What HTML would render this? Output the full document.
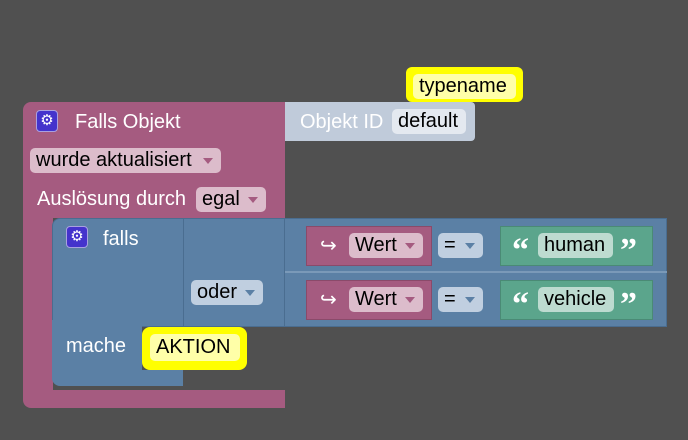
<!DOCTYPE html>
<html><head><meta charset="utf-8"><style>
body{margin:0;width:688px;height:440px;background:#505050;position:relative;overflow:hidden;font-family:"Liberation Sans",sans-serif;font-size:20px}
div{position:absolute;box-sizing:border-box}
.t{color:#fff;white-space:nowrap;line-height:20px}
.pill{border-radius:5px;color:#000;white-space:nowrap;line-height:25px;padding-left:6px}
.ar{position:absolute;right:8px;top:10px;width:0;height:0;border-left:5px solid transparent;border-right:5px solid transparent;border-top:6px solid}
.gear{width:22px;height:22px;background:#4433cc;border:1px solid #a9a0e0;border-radius:4px;color:#fff;font-size:15px;text-align:center;line-height:20px}
.q{color:#fff;font-family:"Liberation Serif",serif;font-weight:bold;font-size:34px;line-height:30px}
</style></head><body>
<!-- outer pink -->
<div style="left:23px;top:102px;width:262px;height:116px;background:#a55b80;border-radius:8px 0 0 0"></div>
<div style="left:23px;top:210px;width:30px;height:190px;background:#a55b80"></div>
<div style="left:23px;top:390px;width:262px;height:18px;background:#a55b80;border-radius:0 0 0 8px"></div>
<div class="gear" style="left:36px;top:110px">⚙</div>
<div class="t" style="left:75px;top:112px">Falls Objekt</div>
<div class="pill" style="left:30px;top:148px;width:191px;height:25px;background:#dcbccb">wurde aktualisiert<span class="ar" style="color:#a55b80"></span></div>
<div class="t" style="left:37px;top:189px">Auslösung durch</div>
<div class="pill" style="left:196px;top:187px;width:70px;height:25px;background:#dcbccb">egal<span class="ar" style="color:#a55b80"></span></div>
<!-- objekt id -->
<div style="left:285px;top:102px;width:190px;height:39px;background:#c0cbda;border-radius:0 4px 4px 0"></div>
<div class="t" style="left:300px;top:112px">Objekt ID</div>
<div class="pill" style="left:392px;top:109px;width:74px;height:25px;background:#e4e9f0">default</div>
<!-- typename -->
<div style="left:406px;top:67px;width:117px;height:35px;background:#ffff00;border-radius:6px"></div>
<div class="pill" style="left:413px;top:74px;width:103px;height:25px;background:#ffffa8">typename</div>
<!-- blue -->
<div style="left:52px;top:218px;width:615px;height:109px;background:#5b80a5;border:1px solid #4a6d90;border-radius:8px 0 0 0"></div>
<div style="left:52px;top:320px;width:90px;height:60px;background:#5b80a5"></div>
<div style="left:52px;top:370px;width:131px;height:16px;background:#5b80a5;border-radius:0 0 0 8px"></div>
<div style="left:183px;top:218px;width:1px;height:109px;background:#4a6d90"></div>
<div style="left:284px;top:218px;width:1px;height:109px;background:#4a6d90"></div>
<div style="left:285px;top:271px;width:382px;height:2px;background:#7a99b8"></div>
<div class="gear" style="left:66px;top:226px">⚙</div>
<div class="t" style="left:103px;top:229px">falls</div>
<div class="pill" style="left:191px;top:280px;width:72px;height:25px;background:#c0cfe0">oder<span class="ar" style="color:#5b80a5"></span></div>
<div class="t" style="left:66px;top:336px">mache</div>
<!-- aktion -->
<div style="left:142px;top:327px;width:105px;height:43px;background:#ffff00;border-radius:8px"></div>
<div class="pill" style="left:150px;top:334px;width:90px;height:27px;background:#ffffa8;line-height:27px">AKTION</div>
<!-- rows -->
<div style="left:306px;top:226px;width:126px;height:40px;background:#a55b80;border:1px solid #8a4a6a"></div>
<div class="t" style="left:320px;top:236px">↪</div>
<div class="pill" style="left:349px;top:233px;width:74px;height:25px;background:#dcbccb">Wert<span class="ar" style="color:#a55b80"></span></div>
<div class="pill" style="left:438px;top:233px;width:45px;height:25px;background:#c0cfe0">=<span class="ar" style="color:#5b80a5"></span></div>
<div style="left:500px;top:226px;width:153px;height:40px;background:#5ba58c;border:1px solid #4a8a75"></div>
<div class="q" style="left:512px;top:236px">“</div>
<div class="pill" style="left:538px;top:233px;width:75px;height:25px;background:#bddbd0">human</div>
<div class="q" style="left:620px;top:236px">”</div>

<div style="left:306px;top:280px;width:126px;height:40px;background:#a55b80;border:1px solid #8a4a6a"></div>
<div class="t" style="left:320px;top:290px">↪</div>
<div class="pill" style="left:349px;top:287px;width:74px;height:25px;background:#dcbccb">Wert<span class="ar" style="color:#a55b80"></span></div>
<div class="pill" style="left:438px;top:287px;width:45px;height:25px;background:#c0cfe0">=<span class="ar" style="color:#5b80a5"></span></div>
<div style="left:500px;top:280px;width:153px;height:40px;background:#5ba58c;border:1px solid #4a8a75"></div>
<div class="q" style="left:512px;top:290px">“</div>
<div class="pill" style="left:538px;top:287px;width:76px;height:25px;background:#bddbd0">vehicle</div>
<div class="q" style="left:620px;top:290px">”</div>
</body></html>
